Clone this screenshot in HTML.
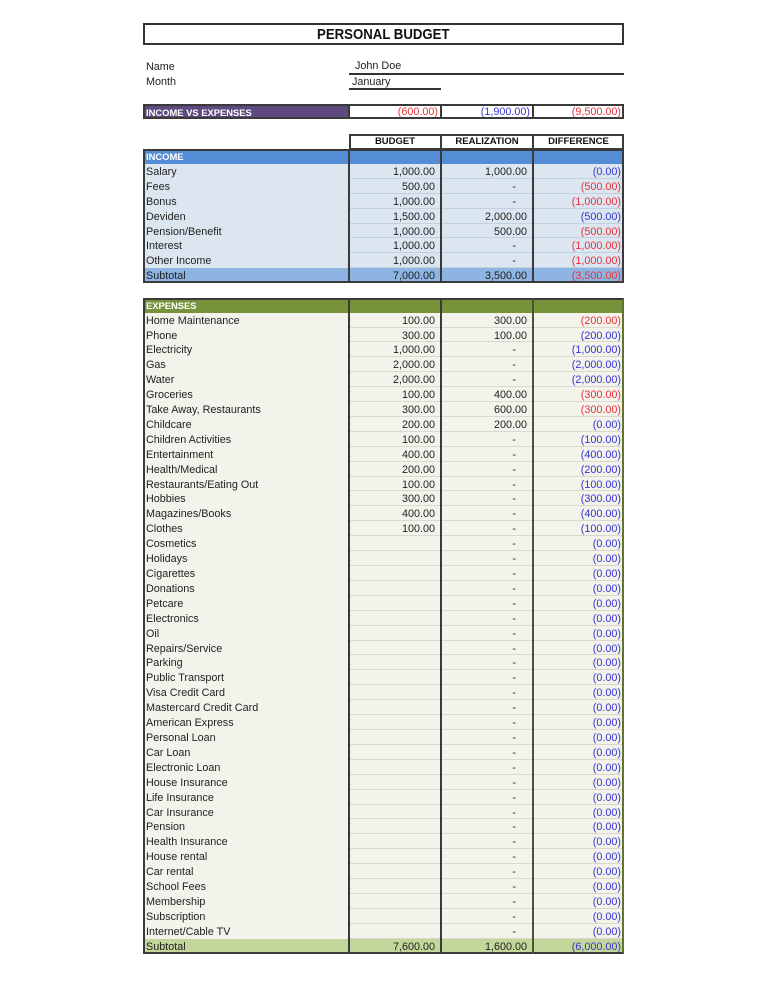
<!DOCTYPE html>
<html><head><meta charset="utf-8">
<style>
*{margin:0;padding:0;box-sizing:border-box}
body{width:768px;height:994px;background:#fff;position:relative;overflow:hidden;font-family:"Liberation Sans",sans-serif;color:#222}
.abs{position:absolute}
.title{left:143px;top:23px;width:481px;height:22px;border:2px solid #333;text-align:center;line-height:19px}
.title span{display:inline-block;font-weight:bold;font-size:15px;transform:scaleX(0.88);color:#111}
.txt{font-size:10.8px;line-height:14px}
.sec{position:absolute;left:143px;width:481px}
.r{height:14.92px;display:flex;font-size:10.8px;line-height:14.92px}
.r div{white-space:nowrap;overflow:hidden;padding-top:1px}
.l{width:206px;padding-left:3px}
.b{width:92px;text-align:right;padding-right:6px}
.z{width:92px;text-align:right;padding-right:6px}
.d{width:91px;text-align:right;padding-right:3px}
.z.ds{padding-right:17px}
.red{color:#e5323a}
.blu{color:#3535d0}
.inc .r .b,.inc .r .z,.inc .r .d{border-bottom:1px solid #c3d0de}
.exp .r .b,.exp .r .z,.exp .r .d{border-bottom:1px solid #d9dacd}
.hb{font-weight:bold;color:#fff;font-size:9.4px}
.vl{position:absolute;top:0;width:2px;height:100%;background:#3a3a3a}
.ob{position:absolute;left:0;top:0;right:0;bottom:0;border:2px solid #3a3a3a}
</style></head><body>

<div class="abs title"><span>PERSONAL BUDGET</span></div>

<div class="abs txt" style="left:146px;top:60px">Name</div>
<div class="abs txt" style="left:146px;top:75px">Month</div>
<div class="abs txt" style="left:355px;top:59px">John Doe</div>
<div class="abs" style="left:349px;top:73px;width:275px;height:2px;background:#333"></div>
<div class="abs txt" style="left:352px;top:75px">January</div>
<div class="abs" style="left:349px;top:88px;width:92px;height:2px;background:#333"></div>

<!-- Income vs expenses -->
<div class="sec" style="top:104px;height:15px">
  <div class="r" style="height:15px;line-height:15px">
    <div class="l hb" style="background:#5e4a7e;padding-left:3px">INCOME VS EXPENSES</div>
    <div class="b red" style="padding-right:3px">(600.00)</div>
    <div class="z blu" style="padding-right:3px">(1,900.00)</div>
    <div class="d red">(9,500.00)</div>
  </div>
  <div class="ob"></div>
  <div class="vl" style="left:205px"></div>
  <div class="vl" style="left:297px"></div>
  <div class="vl" style="left:389px"></div>
</div>

<!-- column header -->
<div class="abs" style="left:349px;top:134px;width:275px;height:16px;font-weight:bold;font-size:9.5px;line-height:16px;color:#111">
  <div class="abs" style="left:0;top:0;width:92px;text-align:center">BUDGET</div>
  <div class="abs" style="left:92px;top:0;width:92px;text-align:center">REALIZATION</div>
  <div class="abs" style="left:184px;top:0;width:91px;text-align:center">DIFFERENCE</div>
  <div class="ob"></div>
  <div class="vl" style="left:91px"></div>
  <div class="vl" style="left:183px"></div>
</div>

<!-- INCOME -->
<div class="sec inc" style="top:149px;height:134.3px">
  <div class="r" style="background:#538dd5"><div class="l hb">INCOME</div><div class="b" style="border:0"></div><div class="z" style="border:0"></div><div class="d" style="border:0"></div></div>
  <div class="r" style="background:#dce6f1"><div class="l">Salary</div><div class="b">1,000.00</div><div class="z">1,000.00</div><div class="d blu">(0.00)</div></div>
  <div class="r" style="background:#dce6f1"><div class="l">Fees</div><div class="b">500.00</div><div class="z ds">-</div><div class="d red">(500.00)</div></div>
  <div class="r" style="background:#dce6f1"><div class="l">Bonus</div><div class="b">1,000.00</div><div class="z ds">-</div><div class="d red">(1,000.00)</div></div>
  <div class="r" style="background:#dce6f1"><div class="l">Deviden</div><div class="b">1,500.00</div><div class="z">2,000.00</div><div class="d blu">(500.00)</div></div>
  <div class="r" style="background:#dce6f1"><div class="l">Pension/Benefit</div><div class="b">1,000.00</div><div class="z">500.00</div><div class="d red">(500.00)</div></div>
  <div class="r" style="background:#dce6f1"><div class="l">Interest</div><div class="b">1,000.00</div><div class="z ds">-</div><div class="d red">(1,000.00)</div></div>
  <div class="r" style="background:#dce6f1"><div class="l">Other Income</div><div class="b">1,000.00</div><div class="z ds">-</div><div class="d red">(1,000.00)</div></div>
  <div class="r" style="background:#8db4e2"><div class="l">Subtotal</div><div class="b" style="border:0">7,000.00</div><div class="z" style="border:0">3,500.00</div><div class="d red" style="border:0">(3,500.00)</div></div>
  <div class="ob"></div>
  <div class="vl" style="left:205px"></div>
  <div class="vl" style="left:297px"></div>
  <div class="vl" style="left:389px"></div>
</div>

<!-- EXPENSES -->
<div class="sec exp" style="top:297.7px;height:656.5px">
  <div class="r" style="background:#76933c"><div class="l hb">EXPENSES</div><div class="b" style="border:0"></div><div class="z" style="border:0"></div><div class="d" style="border:0"></div></div>
  <div style="background:#f3f3ec">
  <div class="r"><div class="l">Home Maintenance</div><div class="b">100.00</div><div class="z">300.00</div><div class="d red">(200.00)</div></div>
  <div class="r"><div class="l">Phone</div><div class="b">300.00</div><div class="z">100.00</div><div class="d blu">(200.00)</div></div>
  <div class="r"><div class="l">Electricity</div><div class="b">1,000.00</div><div class="z ds">-</div><div class="d blu">(1,000.00)</div></div>
  <div class="r"><div class="l">Gas</div><div class="b">2,000.00</div><div class="z ds">-</div><div class="d blu">(2,000.00)</div></div>
  <div class="r"><div class="l">Water</div><div class="b">2,000.00</div><div class="z ds">-</div><div class="d blu">(2,000.00)</div></div>
  <div class="r"><div class="l">Groceries</div><div class="b">100.00</div><div class="z">400.00</div><div class="d red">(300.00)</div></div>
  <div class="r"><div class="l">Take Away, Restaurants</div><div class="b">300.00</div><div class="z">600.00</div><div class="d red">(300.00)</div></div>
  <div class="r"><div class="l">Childcare</div><div class="b">200.00</div><div class="z">200.00</div><div class="d blu">(0.00)</div></div>
  <div class="r"><div class="l">Children Activities</div><div class="b">100.00</div><div class="z ds">-</div><div class="d blu">(100.00)</div></div>
  <div class="r"><div class="l">Entertainment</div><div class="b">400.00</div><div class="z ds">-</div><div class="d blu">(400.00)</div></div>
  <div class="r"><div class="l">Health/Medical</div><div class="b">200.00</div><div class="z ds">-</div><div class="d blu">(200.00)</div></div>
  <div class="r"><div class="l">Restaurants/Eating Out</div><div class="b">100.00</div><div class="z ds">-</div><div class="d blu">(100.00)</div></div>
  <div class="r"><div class="l">Hobbies</div><div class="b">300.00</div><div class="z ds">-</div><div class="d blu">(300.00)</div></div>
  <div class="r"><div class="l">Magazines/Books</div><div class="b">400.00</div><div class="z ds">-</div><div class="d blu">(400.00)</div></div>
  <div class="r"><div class="l">Clothes</div><div class="b">100.00</div><div class="z ds">-</div><div class="d blu">(100.00)</div></div>
  <div class="r"><div class="l">Cosmetics</div><div class="b"></div><div class="z ds">-</div><div class="d blu">(0.00)</div></div>
  <div class="r"><div class="l">Holidays</div><div class="b"></div><div class="z ds">-</div><div class="d blu">(0.00)</div></div>
  <div class="r"><div class="l">Cigarettes</div><div class="b"></div><div class="z ds">-</div><div class="d blu">(0.00)</div></div>
  <div class="r"><div class="l">Donations</div><div class="b"></div><div class="z ds">-</div><div class="d blu">(0.00)</div></div>
  <div class="r"><div class="l">Petcare</div><div class="b"></div><div class="z ds">-</div><div class="d blu">(0.00)</div></div>
  <div class="r"><div class="l">Electronics</div><div class="b"></div><div class="z ds">-</div><div class="d blu">(0.00)</div></div>
  <div class="r"><div class="l">Oil</div><div class="b"></div><div class="z ds">-</div><div class="d blu">(0.00)</div></div>
  <div class="r"><div class="l">Repairs/Service</div><div class="b"></div><div class="z ds">-</div><div class="d blu">(0.00)</div></div>
  <div class="r"><div class="l">Parking</div><div class="b"></div><div class="z ds">-</div><div class="d blu">(0.00)</div></div>
  <div class="r"><div class="l">Public Transport</div><div class="b"></div><div class="z ds">-</div><div class="d blu">(0.00)</div></div>
  <div class="r"><div class="l">Visa Credit Card</div><div class="b"></div><div class="z ds">-</div><div class="d blu">(0.00)</div></div>
  <div class="r"><div class="l">Mastercard Credit Card</div><div class="b"></div><div class="z ds">-</div><div class="d blu">(0.00)</div></div>
  <div class="r"><div class="l">American Express</div><div class="b"></div><div class="z ds">-</div><div class="d blu">(0.00)</div></div>
  <div class="r"><div class="l">Personal Loan</div><div class="b"></div><div class="z ds">-</div><div class="d blu">(0.00)</div></div>
  <div class="r"><div class="l">Car Loan</div><div class="b"></div><div class="z ds">-</div><div class="d blu">(0.00)</div></div>
  <div class="r"><div class="l">Electronic Loan</div><div class="b"></div><div class="z ds">-</div><div class="d blu">(0.00)</div></div>
  <div class="r"><div class="l">House Insurance</div><div class="b"></div><div class="z ds">-</div><div class="d blu">(0.00)</div></div>
  <div class="r"><div class="l">Life Insurance</div><div class="b"></div><div class="z ds">-</div><div class="d blu">(0.00)</div></div>
  <div class="r"><div class="l">Car Insurance</div><div class="b"></div><div class="z ds">-</div><div class="d blu">(0.00)</div></div>
  <div class="r"><div class="l">Pension</div><div class="b"></div><div class="z ds">-</div><div class="d blu">(0.00)</div></div>
  <div class="r"><div class="l">Health Insurance</div><div class="b"></div><div class="z ds">-</div><div class="d blu">(0.00)</div></div>
  <div class="r"><div class="l">House rental</div><div class="b"></div><div class="z ds">-</div><div class="d blu">(0.00)</div></div>
  <div class="r"><div class="l">Car rental</div><div class="b"></div><div class="z ds">-</div><div class="d blu">(0.00)</div></div>
  <div class="r"><div class="l">School Fees</div><div class="b"></div><div class="z ds">-</div><div class="d blu">(0.00)</div></div>
  <div class="r"><div class="l">Membership</div><div class="b"></div><div class="z ds">-</div><div class="d blu">(0.00)</div></div>
  <div class="r"><div class="l">Subscription</div><div class="b"></div><div class="z ds">-</div><div class="d blu">(0.00)</div></div>
  <div class="r"><div class="l">Internet/Cable TV</div><div class="b"></div><div class="z ds">-</div><div class="d blu">(0.00)</div></div>
  </div>
  <div class="r" style="background:#c4d79b"><div class="l">Subtotal</div><div class="b" style="border:0">7,600.00</div><div class="z" style="border:0">1,600.00</div><div class="d blu" style="border:0">(6,000.00)</div></div>
  <div class="ob" style="border-right-color:#5f7530"></div>
  <div class="vl" style="left:205px"></div>
  <div class="vl" style="left:297px"></div>
  <div class="vl" style="left:389px;background:#4a5530"></div>
</div>

</body></html>
